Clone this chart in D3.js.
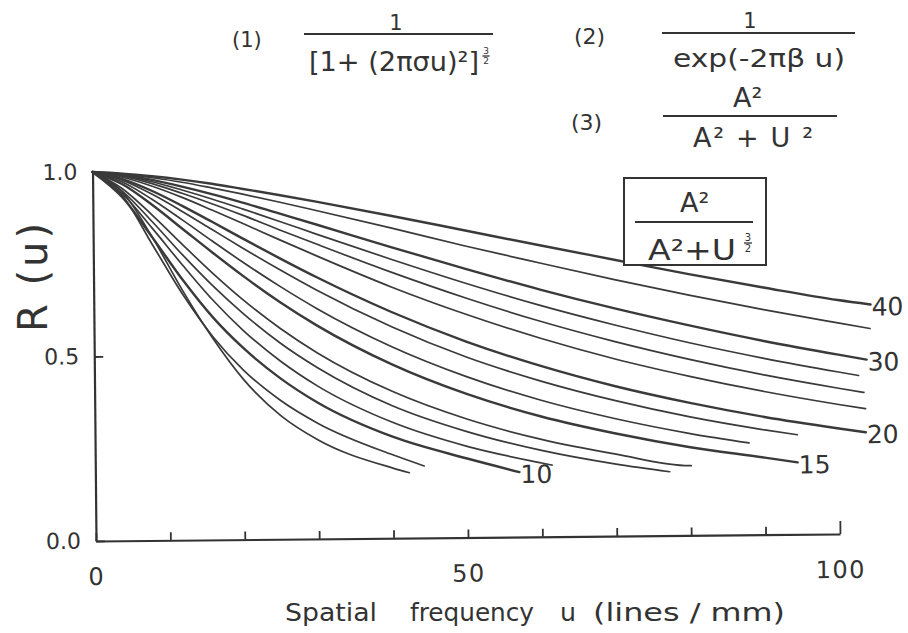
<!DOCTYPE html>
<meta charset="utf-8">
<script src="https://d3js.org/d3.v7.min.js"></script>
<style>
  body { margin: 0; background: #fff; }
  text { font-family: "DejaVu Sans", sans-serif; fill: #333; }
</style>
<div id="chart"></div>
<script>

// spatial frequency grid (lines/mm) where the curves were read
var uGrid = [0, 4, 8, 12, 16, 20, 25, 30, 40, 50, 60, 70, 80, 90, 100];

// where each curve stops (u, R) and its label (only some are labelled)
var endU = [104.4, 104.3, 103.8, 102.7, 103.4, 103.6, 103.6, 94.4, 87.9, 94.4, 80.1, 77.2, 61.4, 57.0, 44.2, 42.2];
var endR = [0.621, 0.556, 0.472, 0.429, 0.383, 0.339, 0.275, 0.270, 0.249, 0.195, 0.189, 0.173, 0.194, 0.176, 0.195, 0.177];
var labels = ["40", "", "30", "", "", "", "20", "", "", "15", "", "", "", "10", "", ""];
var heavy  = [1, 0, 1, 0, 0, 0, 1, 0, 0, 1, 0, 0, 0, 1, 0, 0];

// R(u) at uGrid (top curve first)
var rCurves = [
  [1, 0.995, 0.987, 0.977, 0.965, 0.951, 0.933, 0.914, 0.874, 0.832, 0.790, 0.749, 0.708, 0.670, 0.634],
  [1, 0.994, 0.983, 0.970, 0.954, 0.937, 0.914, 0.890, 0.841, 0.790, 0.742, 0.695, 0.651, 0.610, 0.572],
  [1, 0.992, 0.977, 0.958, 0.937, 0.914, 0.883, 0.852, 0.789, 0.728, 0.670, 0.617, 0.569, 0.525, 0.486],
  [1, 0.990, 0.972, 0.949, 0.924, 0.897, 0.862, 0.826, 0.756, 0.689, 0.627, 0.572, 0.522, 0.478, 0.439],
  [1, 0.988, 0.967, 0.940, 0.911, 0.880, 0.839, 0.799, 0.721, 0.649, 0.584, 0.527, 0.477, 0.433, 0.395],
  [1, 0.985, 0.960, 0.929, 0.894, 0.858, 0.812, 0.767, 0.681, 0.605, 0.538, 0.480, 0.431, 0.388, 0.351],
  [1, 0.980, 0.947, 0.906, 0.862, 0.817, 0.762, 0.709, 0.613, 0.531, 0.463, 0.406, 0.359, 0.319, 0.286],
  [1, 0.977, 0.938, 0.891, 0.841, 0.791, 0.731, 0.674, 0.573, 0.489, 0.422, 0.367, 0.321, 0.284],
  [1, 0.972, 0.924, 0.868, 0.810, 0.753, 0.686, 0.624, 0.519, 0.436, 0.370, 0.318, 0.276],
  [1, 0.966, 0.909, 0.844, 0.779, 0.716, 0.643, 0.578, 0.471, 0.389, 0.326, 0.278, 0.239, 0.209],
  [1, 0.954, 0.881, 0.801, 0.723, 0.651, 0.572, 0.504, 0.398, 0.321, 0.264, 0.222, 0.189],
  [1, 0.947, 0.863, 0.773, 0.689, 0.614, 0.532, 0.464, 0.359, 0.287, 0.234, 0.195],
  [1, 0.940, 0.845, 0.745, 0.650, 0.568, 0.483, 0.414, 0.314, 0.247, 0.200],
  [1, 0.930, 0.820, 0.705, 0.603, 0.520, 0.436, 0.369, 0.275, 0.214],
  [1, 0.935, 0.800, 0.665, 0.550, 0.460, 0.376, 0.313, 0.226],
  [1, 0.945, 0.820, 0.675, 0.545, 0.435, 0.335, 0.268, 0.190]
];

var xTicks = [0, 10, 20, 30, 40, 50, 60, 70, 80, 90, 100];
var xTickLabels = [0, 50, 100];
var yTicks = [0, 0.5, 1.0];

var W = 908, H = 633;
var svg = d3.select("#chart").append("svg")
  .attr("width", W).attr("height", H);

// plot area (the scan is tilted a little, so the whole plot is turned)
var x0 = 96, x1 = 840, yBase = 541, yTop = 172;
var x = d3.scaleLinear().domain([0, 100]).range([x0, x1]);
var y = d3.scaleLinear().domain([0, 1]).range([yBase, yTop]);

var plot = svg.append("g")
  .attr("transform", "rotate(-0.54," + x0 + "," + yBase + ")");

// x axis: inward ticks, labels only at 0, 50, 100
var xAxis = plot.append("g")
  .attr("transform", "translate(0," + yBase + ")")
  .call(d3.axisBottom(x).tickValues(xTicks).tickSizeInner(-8).tickSizeOuter(0).tickPadding(27)
    .tickFormat(function(d) { return xTickLabels.indexOf(d) >= 0 ? d : ""; }));
xAxis.select(".domain").attr("stroke", "#333").attr("stroke-width", 2.2);
xAxis.selectAll(".tick line").attr("stroke", "#333").attr("stroke-width", 1.8)
  .attr("y2", function(d) { return d === 100 ? -13 : -8; });
xAxis.selectAll(".tick text").style("font-size", "24px").style("letter-spacing", "1.5px").attr("fill", "#333");

// y axis
var yAxis = plot.append("g")
  .attr("transform", "translate(" + x0 + ",0)")
  .call(d3.axisLeft(y).tickValues(yTicks).tickSizeInner(-9).tickSizeOuter(0).tickPadding(15)
    .tickFormat(d3.format(".1f")));
yAxis.select(".domain").attr("stroke", "#333").attr("stroke-width", 2.2);
yAxis.selectAll(".tick line").attr("stroke", "#333").attr("stroke-width", 1.8);
yAxis.selectAll(".tick text").style("font-size", "22px").attr("fill", "#333");

// curves
var line = d3.line()
  .x(function(d) { return x(d[0]); })
  .y(function(d) { return y(d[1]); })
  .curve(d3.curveMonotoneX);

rCurves.forEach(function(vals, i) {
  var pts = vals.map(function(r, j) { return [uGrid[j], r]; });
  pts.push([endU[i], endR[i]]);
  plot.append("path")
    .datum(pts)
    .attr("d", line)
    .attr("fill", "none")
    .attr("stroke", "#3a3a3a")
    .attr("stroke-width", heavy[i] ? 2.4 : 1.7)
    .attr("stroke-linecap", "round");
  if (labels[i]) {
    plot.append("text")
      .attr("x", x(endU[i]) + 1)
      .attr("y", y(endR[i]) + 4)
      .attr("dominant-baseline", "middle")
      .style("font-size", "25px")
      .text(labels[i]);
  }
});

// axis titles
function word(txt, px, len) {
  svg.append("text").attr("x", px).attr("y", 621).style("font-size", "24px")
    .attr("textLength", len).attr("lengthAdjust", "spacingAndGlyphs").text(txt);
}
word("Spatial", 285, 92);
word("frequency", 410, 124);
word("u", 560, 16);
word("(lines / mm)", 593, 192);

svg.append("text")
  .attr("transform", "translate(47,276) rotate(-90)")
  .attr("text-anchor", "middle")
  .style("font-size", "40px")
  .style("letter-spacing", "3px")
  .text("R (u)");

// small stacked 3/2 exponent
function halfExp(px, py, size) {
  svg.append("text").attr("x", px).attr("y", py).attr("text-anchor", "middle")
    .style("font-size", size + "px").text("3");
  svg.append("line").attr("x1", px - size * 0.4).attr("x2", px + size * 0.4)
    .attr("y1", py + 2).attr("y2", py + 2).attr("stroke", "#333").attr("stroke-width", 1.3);
  svg.append("text").attr("x", px).attr("y", py + size + 1).attr("text-anchor", "middle")
    .style("font-size", size + "px").text("2");
}

function bar(xa, xb, yy) {
  svg.append("line").attr("x1", xa).attr("x2", xb).attr("y1", yy).attr("y2", yy)
    .attr("stroke", "#333").attr("stroke-width", 2.2);
}

// formula (1)
svg.append("text").attr("x", 232).attr("y", 47).style("font-size", "21px").text("(1)");
svg.append("text").attr("x", 396).attr("y", 30).attr("text-anchor", "middle").style("font-size", "21px").text("1");
bar(304, 493, 34);
svg.append("text").attr("x", 309).attr("y", 71).style("font-size", "26px")
  .attr("textLength", 170).attr("lengthAdjust", "spacingAndGlyphs").text("[1+ (2πσu)²]");
halfExp(486, 54, 9);

// formula (2)
svg.append("text").attr("x", 574).attr("y", 44).style("font-size", "22px").text("(2)");
svg.append("text").attr("x", 750).attr("y", 28).attr("text-anchor", "middle").style("font-size", "21px").text("1");
bar(662, 855, 33);
svg.append("text").attr("x", 673).attr("y", 67).style("font-size", "24px")
  .attr("textLength", 172).attr("lengthAdjust", "spacingAndGlyphs").text("exp(-2πβ u)");

// formula (3)
svg.append("text").attr("x", 571).attr("y", 130).style("font-size", "22px").text("(3)");
svg.append("text").attr("x", 733).attr("y", 107).style("font-size", "27px").text("A²");
bar(663, 837, 116);
svg.append("text").attr("x", 693).attr("y", 147).style("font-size", "27px")
  .attr("textLength", 120).attr("lengthAdjust", "spacing").text("A² + U ²");

// boxed formula
svg.append("rect").attr("x", 624).attr("y", 178).attr("width", 142).attr("height", 87)
  .attr("fill", "#fff").attr("stroke", "#333").attr("stroke-width", 2);
svg.append("text").attr("x", 680).attr("y", 212).style("font-size", "27px").text("A²");
bar(635, 753, 222);
svg.append("text").attr("x", 648).attr("y", 260).style("font-size", "28px")
  .attr("textLength", 88).attr("lengthAdjust", "spacingAndGlyphs").text("A²+U");
halfExp(748, 241, 10);

</script>
